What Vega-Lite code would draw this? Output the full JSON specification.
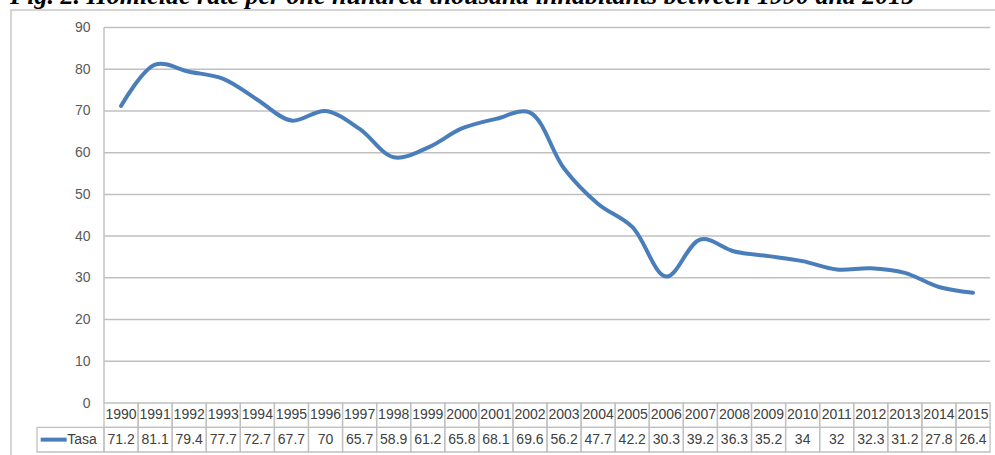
{
  "$schema": "https://vega.github.io/schema/vega-lite/v6.json",
  "autosize": {"type": "none"},
  "padding": {"left": 11, "top": 10, "right": 0, "bottom": 0},
  "width": 985,
  "height": 446,
  "background": "white",
  "title": {
    "text": "Fig. 2. Homicide rate per one hundred thousand inhabitants between 1990 and 2015",
    "anchor": "start",
    "frame": "group",
    "font": "Liberation Serif",
    "fontSize": 26,
    "fontWeight": "bold",
    "fontStyle": "italic",
    "color": "#000000",
    "baseline": "alphabetic",
    "offset": 0,
    "dy": 20,
    "dx": -1
  },
  "config": {
    "view": {"stroke": "#C8C8C8", "strokeWidth": 1.5},
    "text": {"font": "Liberation Sans", "fontSize": 14, "fill": "#404040"}
  },
  "datasets": {
    "rates": [
      {"year": 1990, "rate": 71.2},
      {"year": 1991, "rate": 81.1},
      {"year": 1992, "rate": 79.4},
      {"year": 1993, "rate": 77.7},
      {"year": 1994, "rate": 72.7},
      {"year": 1995, "rate": 67.7},
      {"year": 1996, "rate": 70},
      {"year": 1997, "rate": 65.7},
      {"year": 1998, "rate": 58.9},
      {"year": 1999, "rate": 61.2},
      {"year": 2000, "rate": 65.8},
      {"year": 2001, "rate": 68.1},
      {"year": 2002, "rate": 69.6},
      {"year": 2003, "rate": 56.2},
      {"year": 2004, "rate": 47.7},
      {"year": 2005, "rate": 42.2},
      {"year": 2006, "rate": 30.3},
      {"year": 2007, "rate": 39.2},
      {"year": 2008, "rate": 36.3},
      {"year": 2009, "rate": 35.2},
      {"year": 2010, "rate": 34},
      {"year": 2011, "rate": 32},
      {"year": 2012, "rate": 32.3},
      {"year": 2013, "rate": 31.2},
      {"year": 2014, "rate": 27.8},
      {"year": 2015, "rate": 26.4}
    ],
    "grid": [
      {"v": 10}, {"v": 20}, {"v": 30}, {"v": 40}, {"v": 50},
      {"v": 60}, {"v": 70}, {"v": 80}, {"v": 90}
    ],
    "one": [{"label": "Tasa"}]
  },
  "layer": [
    {
      "data": {"name": "grid"},
      "mark": {"type": "rule", "color": "#C0C0C0", "strokeWidth": 1.5},
      "encoding": {
        "y": {
          "field": "v", "type": "quantitative",
          "scale": {"domain": [-12.703, 94.194], "nice": false, "zero": false},
          "axis": {
            "values": [0, 10, 20, 30, 40, 50, 60, 70, 80, 90],
            "offset": -93,
            "domain": false,
            "ticks": false,
            "grid": false,
            "labelPadding": 14,
            "labelFont": "Liberation Sans",
            "labelFontSize": 14,
            "labelColor": "#595959",
            "title": null
          }
        },
        "x": {"datum": 1989.5, "type": "quantitative", "scale": {"domain": [1986.771, 2015.674], "nice": false, "zero": false}, "axis": null},
        "x2": {"datum": 2015.5}
      }
    },
    {
      "data": {"name": "one"},
      "mark": {"type": "rule", "color": "#C0C0C0", "strokeWidth": 1.5},
      "encoding": {
        "x": {"datum": 1989.5, "type": "quantitative", "scale": {"domain": [1986.771, 2015.674], "nice": false, "zero": false}, "axis": null},
        "y": {"datum": 0, "type": "quantitative", "scale": {"domain": [-12.703, 94.194], "nice": false, "zero": false}},
        "y2": {"datum": 90}
      }
    },
    {
      "data": {"name": "rates"},
      "transform": [
        {"calculate": "datum.year - 0.5", "as": "x0"},
        {"calculate": "datum.year + 0.5", "as": "x1"}
      ],
      "mark": {"type": "rect", "fillOpacity": 0, "stroke": "#C0C0C0", "strokeWidth": 1.3},
      "encoding": {
        "x": {"field": "x0", "type": "quantitative", "scale": {"domain": [1986.771, 2015.674], "nice": false, "zero": false}, "axis": null},
        "x2": {"field": "x1"},
        "y": {"datum": 0, "type": "quantitative", "scale": {"domain": [-12.703, 94.194], "nice": false, "zero": false}},
        "y2": {"datum": -5.82}
      }
    },
    {
      "data": {"name": "rates"},
      "transform": [
        {"calculate": "datum.year - 0.5", "as": "x0"},
        {"calculate": "datum.year + 0.5", "as": "x1"}
      ],
      "mark": {"type": "rect", "fillOpacity": 0, "stroke": "#C0C0C0", "strokeWidth": 1.3},
      "encoding": {
        "x": {"field": "x0", "type": "quantitative", "scale": {"domain": [1986.771, 2015.674], "nice": false, "zero": false}, "axis": null},
        "x2": {"field": "x1"},
        "y": {"datum": -5.82, "type": "quantitative", "scale": {"domain": [-12.703, 94.194], "nice": false, "zero": false}},
        "y2": {"datum": -11.74}
      }
    },
    {
      "data": {"name": "one"},
      "mark": {"type": "rect", "fillOpacity": 0, "stroke": "#C0C0C0", "strokeWidth": 1.3},
      "encoding": {
        "x": {"datum": 1987.534, "type": "quantitative", "scale": {"domain": [1986.771, 2015.674], "nice": false, "zero": false}, "axis": null},
        "x2": {"datum": 1989.5},
        "y": {"datum": -5.82, "type": "quantitative", "scale": {"domain": [-12.703, 94.194], "nice": false, "zero": false}},
        "y2": {"datum": -11.74}
      }
    },
    {
      "data": {"name": "one"},
      "mark": {"type": "rule", "color": "#4A7EBB", "strokeWidth": 4},
      "encoding": {
        "x": {"datum": 1987.642, "type": "quantitative", "scale": {"domain": [1986.771, 2015.674], "nice": false, "zero": false}, "axis": null},
        "x2": {"datum": 1988.405},
        "y": {"datum": -8.78, "type": "quantitative", "scale": {"domain": [-12.703, 94.194], "nice": false, "zero": false}}
      }
    },
    {
      "data": {"name": "one"},
      "mark": {"type": "text", "align": "left", "baseline": "middle"},
      "encoding": {
        "x": {"datum": 1988.42, "type": "quantitative", "scale": {"domain": [1986.771, 2015.674], "nice": false, "zero": false}, "axis": null},
        "y": {"datum": -8.78, "type": "quantitative", "scale": {"domain": [-12.703, 94.194], "nice": false, "zero": false}},
        "text": {"field": "label", "type": "nominal"}
      }
    },
    {
      "data": {"name": "rates"},
      "mark": {"type": "text", "align": "center", "baseline": "middle"},
      "encoding": {
        "x": {"field": "year", "type": "quantitative", "scale": {"domain": [1986.771, 2015.674], "nice": false, "zero": false}, "axis": null},
        "y": {"datum": -2.91, "type": "quantitative", "scale": {"domain": [-12.703, 94.194], "nice": false, "zero": false}},
        "text": {"field": "year", "type": "nominal"}
      }
    },
    {
      "data": {"name": "rates"},
      "mark": {"type": "text", "align": "center", "baseline": "middle"},
      "encoding": {
        "x": {"field": "year", "type": "quantitative", "scale": {"domain": [1986.771, 2015.674], "nice": false, "zero": false}, "axis": null},
        "y": {"datum": -8.78, "type": "quantitative", "scale": {"domain": [-12.703, 94.194], "nice": false, "zero": false}},
        "text": {"field": "rate", "type": "nominal"}
      }
    },
    {
      "data": {"name": "rates"},
      "mark": {"type": "line", "color": "#4A7EBB", "strokeWidth": 4, "interpolate": "catmull-rom", "strokeCap": "round"},
      "encoding": {
        "x": {"field": "year", "type": "quantitative", "scale": {"domain": [1986.771, 2015.674], "nice": false, "zero": false}, "axis": null},
        "y": {"field": "rate", "type": "quantitative", "scale": {"domain": [-12.703, 94.194], "nice": false, "zero": false}}
      }
    }
  ]
}
